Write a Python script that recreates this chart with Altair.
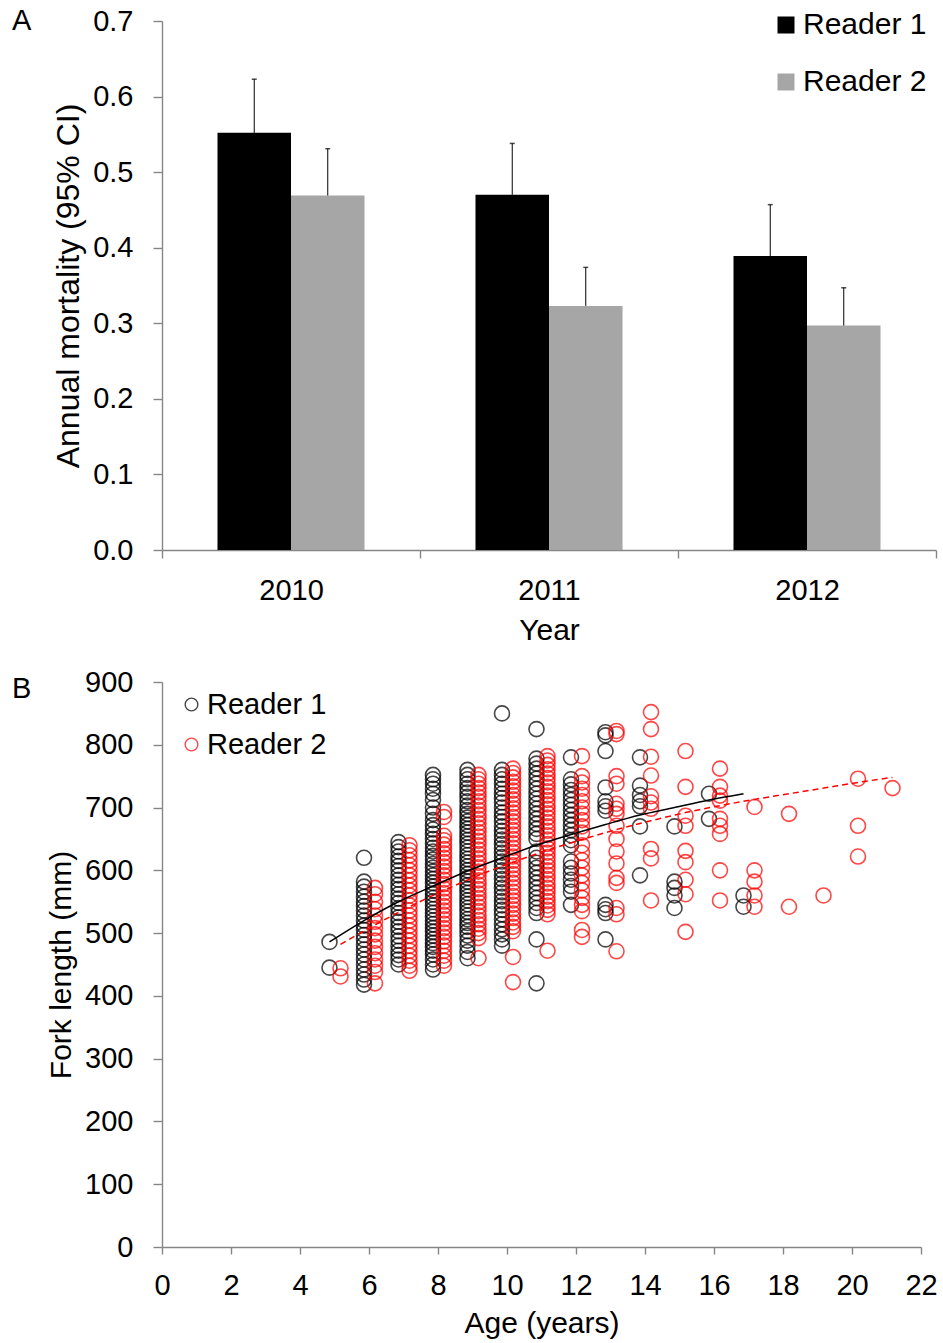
import altair as alt
import pandas as pd

FONT = "Liberation Sans"
AXIS_GRAY = "#868686"
TEXT = "#000000"

readers = ["Reader 1", "Reader 2"]

# ---- Panel A: annual mortality (with upper 95% CI) by year ----
years = ["2010", "2011", "2012"]
reader1_mortality = [0.552, 0.470, 0.389]
reader1_upper = [0.623, 0.538, 0.457]
reader2_mortality = [0.469, 0.323, 0.297]
reader2_upper = [0.531, 0.374, 0.347]

# ---- Panel B: fork length at age, one list per age class ----
r1_age05 = [486, 445]
r1_age06 = [620, 582, 574, 566, 558, 550, 543, 536, 528, 520, 512, 505, 497,
            490, 482, 474, 466, 458, 450, 442, 434, 426, 418]
r1_age07 = [645, 637, 630, 622, 615, 607, 600, 592, 585, 577, 570, 562, 555,
            548, 540, 532, 525, 518, 510, 503, 495, 488, 480, 472, 465, 458, 450]
r1_age08 = [752, 745, 738, 730, 722, 712, 700, 690, 680, 672, 665, 658, 650,
            643, 636, 630, 623, 617, 610, 604, 598, 592, 586, 580, 574, 568,
            562, 556, 550, 544, 538, 532, 526, 520, 514, 508, 502, 496, 490,
            484, 478, 472, 466, 458, 450, 442]
r1_age09 = [760, 752, 745, 738, 731, 724, 717, 710, 703, 696, 690, 684, 678,
            672, 666, 660, 654, 648, 642, 636, 630, 624, 618, 612, 606, 600,
            594, 588, 582, 576, 570, 564, 558, 552, 546, 540, 534, 528, 522,
            516, 510, 503, 496, 488, 480, 470, 460]
r1_age10 = [850, 760, 752, 745, 738, 730, 722, 715, 708, 700, 692, 685, 678,
            670, 663, 656, 649, 642, 635, 628, 621, 614, 607, 600, 593, 586,
            579, 572, 565, 558, 551, 544, 537, 530, 522, 514, 506, 498, 490, 480]
r1_age11 = [825, 778, 770, 762, 754, 746, 738, 730, 722, 714, 706, 698, 690,
            682, 674, 666, 658, 650, 630, 620, 612, 604, 596, 588, 580, 572,
            564, 556, 548, 540, 532, 490, 420]
r1_age12 = [780, 745, 737, 728, 720, 712, 704, 696, 688, 680, 672, 664, 656,
            648, 640, 614, 604, 595, 585, 575, 566, 545]
r1_age13 = [820, 815, 790, 732, 710, 702, 695, 545, 538, 532, 490]
r1_age14 = [780, 735, 720, 710, 702, 670, 592]
r1_age15 = [670, 582, 572, 560, 540]
r1_age16 = [722, 682]
r1_age17 = [560, 542]

r2_age05 = [444, 431]
r2_age06 = [572, 562, 550, 538, 528, 518, 508, 498, 488, 478, 468, 458, 448,
            438, 420]
r2_age07 = [640, 632, 624, 616, 608, 600, 592, 584, 576, 568, 560, 552, 544,
            536, 528, 520, 512, 504, 496, 488, 480, 472, 464, 456, 448, 440]
r2_age08 = [693, 685, 655, 648, 641, 634, 627, 620, 613, 606, 599, 592, 585,
            578, 571, 564, 557, 550, 543, 536, 529, 522, 515, 508, 501, 494,
            487, 480, 472, 464, 456, 448]
r2_age09 = [752, 745, 738, 731, 724, 717, 710, 703, 696, 689, 682, 675, 668,
            661, 654, 647, 640, 633, 626, 619, 612, 605, 598, 591, 584, 577,
            570, 563, 556, 549, 542, 535, 528, 521, 514, 507, 500, 492, 460]
r2_age10 = [762, 755, 748, 741, 734, 727, 720, 713, 706, 699, 692, 685, 678,
            671, 664, 657, 650, 643, 636, 629, 622, 615, 608, 601, 594, 587,
            580, 573, 566, 559, 552, 545, 538, 531, 524, 517, 510, 503, 462, 422]
r2_age11 = [782, 775, 768, 761, 754, 747, 740, 733, 726, 719, 712, 705, 698,
            691, 684, 677, 670, 663, 656, 649, 642, 635, 628, 621, 614, 607,
            600, 593, 586, 579, 572, 565, 558, 551, 544, 537, 530, 472]
r2_age12 = [782, 750, 740, 730, 720, 710, 700, 690, 680, 670, 660, 640, 628,
            616, 604, 592, 580, 568, 556, 545, 535, 505, 494]
r2_age13 = [822, 817, 750, 738, 706, 698, 690, 671, 650, 630, 611, 588, 580,
            540, 530, 471]
r2_age14 = [852, 825, 781, 751, 718, 708, 698, 634, 619, 552]
r2_age15 = [790, 733, 687, 671, 631, 613, 585, 562, 502]
r2_age16 = [762, 733, 719, 711, 682, 671, 658, 600, 552]
r2_age17 = [701, 600, 582, 560, 542]
r2_age18 = [690, 542]
r2_age19 = [560]
r2_age20 = [746, 671, 622]
r2_age21 = [731]

# Fitted growth curves for each reader
r1_curve_age = [5, 6, 7, 8, 9, 10, 11, 12, 13, 14, 15, 16, 17]
r1_curve_fl = [486, 520, 550, 575, 599, 620, 640, 657, 673, 688, 700, 712, 722]
r2_curve_age = [5, 6, 7, 8, 9, 10, 11, 12, 13, 14, 15, 16, 17, 18, 19, 20, 21]
r2_curve_fl = [482, 513, 542, 568, 592, 613, 632, 649, 665, 679, 692, 703,
               713, 722, 731, 740, 748]

r1_columns = [(5, r1_age05), (6, r1_age06), (7, r1_age07), (8, r1_age08),
              (9, r1_age09), (10, r1_age10), (11, r1_age11), (12, r1_age12),
              (13, r1_age13), (14, r1_age14), (15, r1_age15), (16, r1_age16),
              (17, r1_age17)]
r2_columns = [(5, r2_age05), (6, r2_age06), (7, r2_age07), (8, r2_age08),
              (9, r2_age09), (10, r2_age10), (11, r2_age11), (12, r2_age12),
              (13, r2_age13), (14, r2_age14), (15, r2_age15), (16, r2_age16),
              (17, r2_age17), (18, r2_age18), (19, r2_age19), (20, r2_age20),
              (21, r2_age21)]


def to_frame(columns, reader):
    rows = [{"Age": a, "FL": v, "Reader": reader} for a, vals in columns for v in vals]
    return pd.DataFrame(rows)


df_r1 = to_frame(r1_columns, "Reader 1")
df_r2 = to_frame(r2_columns, "Reader 2")
df_c1 = pd.DataFrame({"Age": r1_curve_age, "FL": r1_curve_fl})
df_c2 = pd.DataFrame({"Age": r2_curve_age, "FL": r2_curve_fl})

dfA = pd.DataFrame({
    "Year": years + years,
    "Reader": ["Reader 1"] * 3 + ["Reader 2"] * 3,
    "Mortality": reader1_mortality + reader2_mortality,
    "Upper": reader1_upper + reader2_upper,
})

# ---------------- Panel A ----------------
x_year = alt.X(
    "Year:N", title="Year",
    scale=alt.Scale(paddingInner=0, paddingOuter=0),
    axis=alt.Axis(labelAngle=0, tickBand="extent", tickSize=8,
                  labelPadding=18, titlePadding=10),
)
x_off = alt.XOffset("Reader:N",
                    scale=alt.Scale(domain=readers, paddingInner=0, paddingOuter=0.755))
y_mort = alt.Y(
    "Mortality:Q", title="Annual mortality (95% CI)",
    scale=alt.Scale(domain=[0, 0.7], nice=False),
    axis=alt.Axis(values=[0, 0.1, 0.2, 0.3, 0.4, 0.5, 0.6, 0.7], format=".1f",
                  tickSize=9, labelPadding=20, titlePadding=7, titleFontSize=32),
)

bars = alt.Chart(dfA).mark_bar().encode(
    x=x_year, xOffset=x_off, y=y_mort,
    color=alt.Color(
        "Reader:N",
        scale=alt.Scale(domain=readers, range=["#000000", "#a6a6a6"]),
        legend=alt.Legend(title=None, orient="none", legendX=609, legendY=-11,
                          symbolType="square", symbolSize=289, symbolStrokeWidth=0,
                          labelFontSize=30, labelOffset=2, rowPadding=27, padding=0),
    ),
)
err = alt.Chart(dfA).mark_rule(color="#000000", strokeWidth=1).encode(
    x=x_year, xOffset=x_off, y="Mortality:Q", y2="Upper:Q")
caps = alt.Chart(dfA).mark_tick(color="#000000", size=5, thickness=1.5).encode(
    x=x_year, xOffset=x_off, y="Upper:Q")
tagA = alt.Chart(pd.DataFrame({"t": ["A"]})).mark_text(
    align="left", baseline="middle", fontSize=29, font=FONT, color=TEXT
).encode(text="t:N", x=alt.value(-150), y=alt.value(0))

panelA = alt.layer(bars, err, caps, tagA).properties(width=774, height=529)

# ---------------- Panel B ----------------
x_age = alt.X(
    "Age:Q", title="Age (years)",
    scale=alt.Scale(domain=[0, 22], nice=False),
    axis=alt.Axis(values=list(range(23)),
                  labelExpr="datum.value % 2 == 0 ? datum.label : ''",
                  labelFlush=False, tickSize=7, labelPadding=17, titlePadding=8),
)
y_fl = alt.Y(
    "FL:Q", title="Fork length (mm)",
    scale=alt.Scale(domain=[0, 900], nice=False),
    axis=alt.Axis(values=list(range(0, 901, 100)), tickSize=9,
                  labelPadding=20, titlePadding=8),
)
color_b = alt.Color(
    "Reader:N",
    scale=alt.Scale(domain=readers, range=["#000000", "#ff0000"]),
    legend=alt.Legend(title=None, orient="none", legendX=15, legendY=8,
                      symbolType="circle", symbolSize=160, symbolStrokeWidth=1.4,
                      labelFontSize=29, labelOffset=1, rowPadding=10, padding=0),
)

pts1 = alt.Chart(df_r1).mark_point(
    filled=False, size=225, strokeWidth=1.6, opacity=0.72, xOffset=-5
).encode(x=x_age, y=y_fl, color=color_b)
pts2 = alt.Chart(df_r2).mark_point(
    filled=False, size=225, strokeWidth=1.6, opacity=0.72, xOffset=6
).encode(x=x_age, y=y_fl, color=color_b)
curve1 = alt.Chart(df_c1).mark_line(
    color="#000000", strokeWidth=1.5, xOffset=-5, interpolate="monotone"
).encode(x="Age:Q", y="FL:Q")
curve2 = alt.Chart(df_c2).mark_line(
    color="#ff0000", strokeWidth=1.5, strokeDash=[6, 4], xOffset=6,
    interpolate="monotone"
).encode(x="Age:Q", y="FL:Q")
tagB = alt.Chart(pd.DataFrame({"t": ["B"]})).mark_text(
    align="left", baseline="middle", fontSize=29, font=FONT, color=TEXT
).encode(text="t:N", x=alt.value(-150), y=alt.value(7))

panelB = alt.layer(pts1, pts2, curve1, curve2, tagB).properties(width=759, height=565)

chart = (
    alt.vconcat(panelA, panelB, spacing=23)
    .resolve_scale(x="independent", y="independent", color="independent")
    .resolve_legend(color="independent")
    .properties(padding={"left": 12, "top": 7, "right": 2, "bottom": 2})
    .configure_view(stroke=None)
    .configure_axis(
        labelFont=FONT, titleFont=FONT, labelFontSize=29, titleFontSize=30,
        labelColor=TEXT, titleColor=TEXT, titleFontWeight="normal",
        domainColor=AXIS_GRAY, tickColor=AXIS_GRAY, domainWidth=1.4, tickWidth=1.4,
        grid=False,
    )
    .configure_legend(labelFont=FONT, labelColor=TEXT)
)

chart.save("out.html", embed_options={"renderer": "svg", "actions": False})
